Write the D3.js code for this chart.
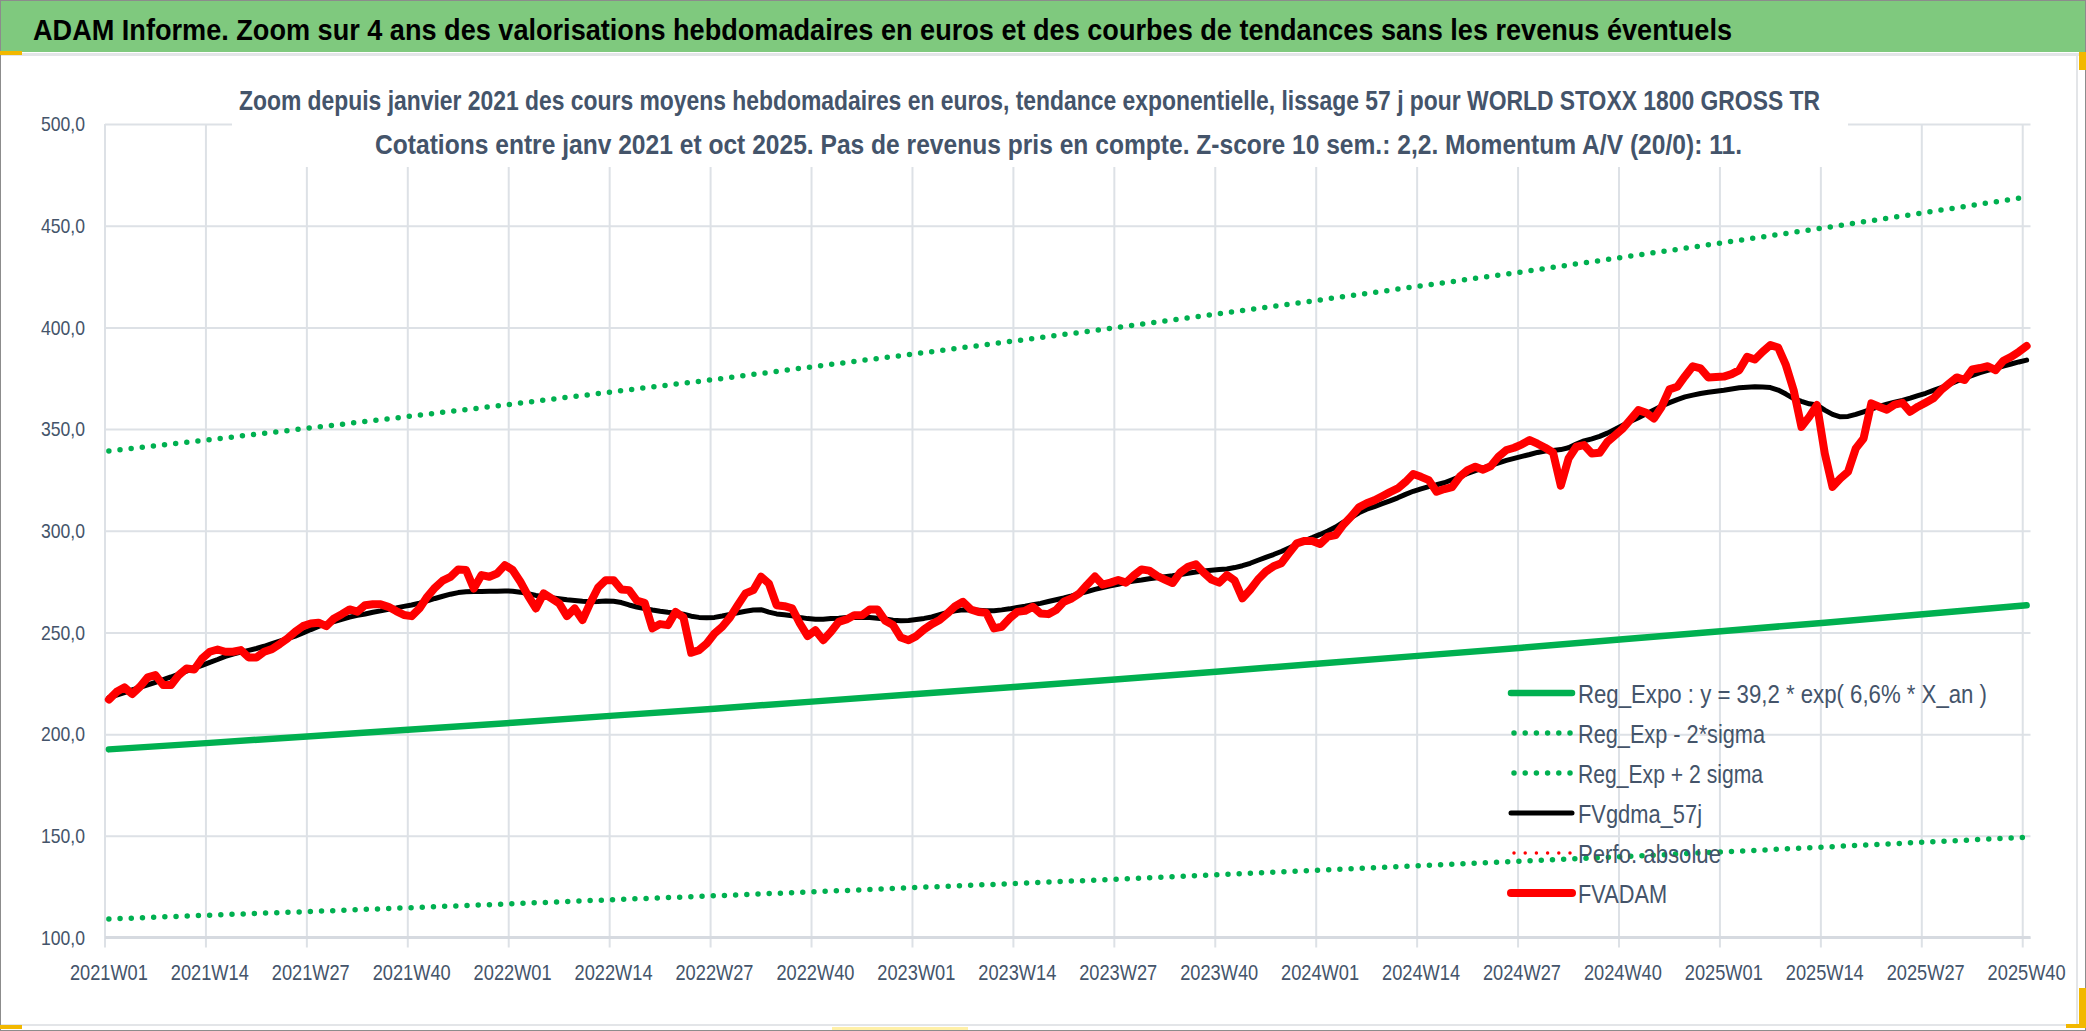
<!DOCTYPE html>
<html>
<head>
<meta charset="utf-8">
<script src="https://cdn.jsdelivr.net/npm/d3@7"></script>
<style>
  html, body { margin: 0; padding: 0; background: #fff; }
  svg { display: block; }
  text { font-family: "Liberation Sans", Arial, sans-serif; }
</style>
</head>
<body>
<script>

// weekly categories: years and number of weeks shown for each
var years = [2021, 2022, 2023, 2024, 2025];
var weeksShown = [52, 52, 52, 52, 40];

// labelled categories (one every 13 weeks)
var tickLabels = ["2021W01", "2021W14", "2021W27", "2021W40", "2022W01", "2022W14", "2022W27", "2022W40",
                  "2023W01", "2023W14", "2023W27", "2023W40", "2024W01", "2024W14", "2024W27", "2024W40",
                  "2025W01", "2025W14", "2025W27", "2025W40"];

var yTicks = [100, 150, 200, 250, 300, 350, 400, 450, 500];

// FVADAM : weekly average prices
var fvadam = [
  217.0, 220.8, 223.0, 219.7, 223.3, 227.9, 229.0, 224.1, 224.1, 229.0, 232.3, 231.8, 237.2,
  240.5, 241.6, 240.5, 240.5, 241.3, 237.7, 237.7, 240.5, 241.8, 244.3, 247.0, 250.3, 253.1,
  254.4, 254.8, 253.1, 256.9, 259.0, 261.3, 260.2, 263.4, 263.9, 263.8, 262.6, 260.5, 258.6,
  258.0, 261.8, 267.5, 272.0, 275.5, 277.3, 281.0, 280.7, 271.6, 278.2, 277.4, 279.0, 283.1,
  280.7, 274.9, 268.0, 261.8, 269.2, 266.8, 264.3, 258.0, 261.8, 256.1, 264.5, 272.0, 275.7,
  275.7, 271.1, 270.8, 265.6, 264.6, 252.0, 254.1, 253.6, 260.1, 257.4, 240.0, 241.3, 244.6,
  249.5, 252.8, 257.4, 263.4, 269.2, 270.8, 277.4, 274.1, 263.4, 262.9, 261.8, 254.4, 248.2,
  251.1, 246.2, 250.3, 255.2, 256.4, 258.5, 258.5, 261.3, 261.3, 255.7, 253.6, 247.5, 246.2,
  248.2, 251.5, 254.1, 256.1, 259.3, 262.9, 265.1, 261.3, 260.1, 259.7, 252.0, 252.8, 256.9,
  260.1, 260.6, 262.6, 259.3, 259.0, 261.0, 265.1, 266.7, 269.2, 273.5, 277.5, 273.5, 274.5,
  275.8, 274.5, 278.0, 281.0, 280.4, 277.8, 276.0, 274.3, 279.5, 282.3, 283.5, 279.5, 276.0,
  274.5, 278.2, 275.5, 266.8, 271.0, 276.0, 279.9, 282.5, 284.0, 289.0, 293.8, 295.0, 295.0,
  293.5, 297.1, 297.9, 303.0, 307.0, 311.5, 313.5, 315.0, 317.0, 319.0, 320.8, 324.0, 327.9,
  326.5, 324.9, 319.2, 320.5, 321.5, 326.6, 329.8, 331.5, 330.0, 331.8, 336.5, 339.7, 340.8,
  342.5, 344.6, 342.8, 340.8, 338.5, 322.2, 335.5, 341.3, 342.1, 338.0, 338.3, 343.7, 347.0,
  350.3, 354.8, 359.3, 358.0, 355.2, 361.0, 369.5, 370.8, 376.0, 380.9, 379.8, 375.4, 375.6,
  375.8, 377.0, 379.0, 385.5, 384.2, 388.0, 391.3, 390.1, 381.4, 369.0, 351.1, 356.0, 361.8,
  338.0, 321.6, 325.7, 329.0, 340.5, 345.4, 362.6, 361.0, 359.5, 362.0, 362.9, 358.5, 361.0,
  363.0, 365.1, 369.2, 372.3, 375.4, 374.1, 379.3, 380.0, 380.9, 379.0, 383.6, 385.5, 388.0, 390.8
];

// FVgdma_57j : smoothed curve
var fvgdma57 = [
  218.0, 219.2, 220.4, 221.8, 223.0, 224.2, 225.5, 226.8, 228.1, 229.5, 231.0, 232.4, 233.8,
  235.3, 236.7, 238.2, 239.4, 240.3, 241.2, 242.1, 243.2, 244.5, 245.7, 246.9, 248.2, 249.7,
  251.4, 253.0, 254.2, 255.3, 256.4, 257.5, 258.4, 259.1, 259.9, 260.6, 261.4, 262.0, 262.8,
  263.5, 264.4, 265.5, 266.7, 267.8, 268.8, 269.6, 270.0, 270.1, 270.1, 270.2, 270.3, 270.4,
  270.3, 269.8, 269.0, 268.2, 267.6, 267.1, 266.6, 266.1, 265.7, 265.3, 265.1, 265.2, 265.4,
  265.3, 264.7, 263.5, 262.5, 261.7, 261.0, 260.4, 259.9, 259.5, 259.0, 258.0, 257.4, 257.2,
  257.4, 258.1, 258.9, 259.7, 260.4, 261.0, 261.2, 260.0, 259.1, 258.7, 258.2, 257.4, 256.8,
  256.5, 256.5, 256.8, 257.0, 257.3, 257.4, 257.4, 257.3, 257.0, 256.6, 256.0, 255.8, 255.9,
  256.4, 256.9, 257.6, 258.7, 259.8, 260.6, 261.1, 261.0, 260.9, 260.7, 260.7, 261.1, 261.6,
  262.3, 262.9, 263.6, 264.3, 265.2, 266.1, 267.0, 268.0, 269.1, 270.1, 271.2, 272.1, 272.9,
  273.7, 274.6, 275.3, 275.8, 276.4, 276.9, 277.4, 277.9, 278.5, 279.1, 279.7, 280.2, 280.6,
  280.9, 281.2, 281.9, 282.8, 284.0, 285.5, 286.9, 288.3, 289.8, 291.5, 293.3, 295.1, 296.6,
  298.2, 299.9, 301.8, 304.2, 306.4, 308.8, 310.6, 311.9, 313.3, 314.7, 316.2, 317.9, 319.4,
  320.6, 321.7, 322.6, 323.6, 325.1, 326.6, 328.2, 329.6, 330.9, 332.1, 333.4, 334.6, 335.6,
  336.6, 337.5, 338.5, 339.2, 339.5, 339.9, 340.8, 342.6, 344.2, 345.2, 346.4, 348.0, 349.9,
  351.9, 353.8, 355.6, 357.5, 359.4, 361.3, 363.0, 364.5, 365.8, 366.7, 367.5, 368.1, 368.6,
  369.1, 369.7, 370.3, 370.6, 370.8, 370.7, 370.4, 369.2, 367.2, 365.0, 363.6, 362.4, 361.8,
  359.3, 357.2, 356.0, 356.2, 357.2, 358.5, 359.8, 361.1, 362.2, 363.2, 364.1, 365.2, 366.4,
  367.6, 369.0, 370.4, 371.9, 373.5, 375.0, 376.4, 377.7, 378.9, 379.9, 381.0, 382.0, 383.0, 383.9
];

// exponential regression and +/- 2 sigma bands, read at the labelled weeks
var regExpo = [192.5, 195.7, 199.0, 202.3, 205.6, 209.1, 212.5, 216.1, 219.7, 223.3,
               227.0, 230.8, 234.7, 238.6, 242.5, 246.6, 250.7, 254.8, 259.1, 263.4];
var regLow  = [109.1, 111.0, 112.8, 114.7, 116.6, 118.6, 120.5, 122.5, 124.6, 126.6,
               128.7, 130.9, 133.1, 135.3, 137.5, 139.8, 142.1, 144.5, 146.9, 149.3];
var regHigh = [339.2, 344.8, 350.6, 356.4, 362.3, 368.4, 374.4, 380.8, 387.1, 393.5,
               400.0, 406.7, 413.5, 420.4, 427.3, 434.5, 441.7, 449.0, 456.5, 464.1];

var titleText = "ADAM Informe. Zoom sur 4 ans des valorisations hebdomadaires en euros et des courbes de tendances sans les revenus éventuels";
var subTitle1 = "Zoom depuis janvier 2021 des cours moyens hebdomadaires en euros, tendance exponentielle, lissage 57 j pour WORLD STOXX 1800 GROSS TR";
var subTitle2 = "Cotations entre janv 2021 et oct 2025. Pas de revenus pris en compte. Z-score 10 sem.: 2,2. Momentum A/V (20/0): 11.";

var legendItems = [
  {label: "Reg_Expo : y = 39,2 * exp( 6,6% *  X_an )", color: "#00B050", width: 6.5, dotted: false, len: 409},
  {label: "Reg_Exp - 2*sigma", color: "#00B050", width: 5.5, dotted: true, len: 187},
  {label: "Reg_Exp + 2 sigma", color: "#00B050", width: 5.5, dotted: true, len: 185},
  {label: "FVgdma_57j", color: "#000000", width: 5, dotted: false, len: 124},
  {label: "Perfo. absolue", color: "#FF0000", width: 3.5, dotted: true, len: 143},
  {label: "FVADAM", color: "#FF0000", width: 8, dotted: false, len: 89}
];

// ---------------------------------------------------------------

var categories = [];
years.forEach(function(yr, i) {
    for (var w = 1; w <= weeksShown[i]; w++)
        categories.push(yr + 'W' + (w < 10 ? '0' + w : w));
});

var W = 2086, H = 1031;
var plot = {left: 105, right: 2030.5, top: 124, bottom: 937.5};
var textColor = '#44546A';

var svg = d3.select('body').append('svg')
            .attr('width', W)
            .attr('height', H);

svg.append('rect').attr('width', W).attr('height', H).attr('fill', '#fff');

// title banner
svg.append('rect')
    .attr('x', 0).attr('y', 0).attr('width', W).attr('height', 52)
    .attr('fill', '#7FC97E');
svg.append('text')
    .attr('x', 33).attr('y', 40)
    .attr('font-size', 29).attr('font-weight', 'bold').attr('fill', '#000')
    .attr('textLength', 1699).attr('lengthAdjust', 'spacingAndGlyphs')
    .text(titleText);

// chart area frame
svg.append('rect').attr('x', 0).attr('y', 53).attr('width', W).attr('height', 3).attr('fill', '#E3E5E8');
svg.append('line').attr('x1', 2077).attr('x2', 2077).attr('y1', 56).attr('y2', 1025)
    .attr('stroke', '#E3E5E8').attr('stroke-width', 2);
svg.append('line').attr('x1', 0).attr('x2', 2077).attr('y1', 1025).attr('y2', 1025)
    .attr('stroke', '#E3E5E8').attr('stroke-width', 2);
svg.append('rect').attr('x', 0).attr('y', 0).attr('width', W).attr('height', H)
    .attr('fill', 'none').attr('stroke', '#8C8C8C').attr('stroke-width', 2);

// selection handles left by the spreadsheet
var handles = [
    [0, 51, 22, 4, '#F2B800'], [2079, 52, 7, 18, '#F2B800'],
    [2079, 988, 7, 40, '#F2B800'], [2066, 1024, 20, 4, '#F2B800'],
    [0, 1025, 22, 4, '#F2B800'], [832, 1027, 136, 3, '#FFF0A8']
];
svg.selectAll('rect.handle').data(handles).enter().append('rect')
    .attr('class', 'handle')
    .attr('x', function(d) { return d[0]; }).attr('y', function(d) { return d[1]; })
    .attr('width', function(d) { return d[2]; }).attr('height', function(d) { return d[3]; })
    .attr('fill', function(d) { return d[4]; });

// scales
var x = d3.scaleBand().domain(categories).range([plot.left, plot.right]);
var bw = x.bandwidth();
var y = d3.scaleLinear().domain([100, 500]).range([plot.bottom, plot.top]);
var cx = function(c) { return x(c) + bw / 2; };

// horizontal gridlines + value labels
var yAxis = svg.append('g')
    .attr('transform', 'translate(' + plot.left + ',0)')
    .call(d3.axisLeft(y)
            .tickValues(yTicks)
            .tickSize(-(plot.right - plot.left))
            .tickPadding(20)
            .tickFormat(function(d) { return d3.format('.1f')(d).replace('.', ','); }));
yAxis.select('.domain').remove();
yAxis.selectAll('.tick line').attr('stroke', '#DDE1E6').attr('stroke-width', 2);
yAxis.selectAll('.tick text')
    .attr('font-size', 21).attr('fill', textColor)
    .attr('font-family', '"Liberation Sans", Arial, sans-serif')
    .attr('textLength', 44).attr('lengthAdjust', 'spacingAndGlyphs');

// vertical gridlines at the labelled weeks (band edges)
svg.append('g').selectAll('line').data(tickLabels).enter().append('line')
    .attr('x1', function(d) { return x(d); }).attr('x2', function(d) { return x(d); })
    .attr('y1', plot.top).attr('y2', plot.bottom + 10)
    .attr('stroke', '#DDE1E6').attr('stroke-width', 2);

// category axis line
svg.append('line')
    .attr('x1', plot.left).attr('x2', plot.right)
    .attr('y1', plot.bottom).attr('y2', plot.bottom)
    .attr('stroke', '#D6DAE0').attr('stroke-width', 3);

// chart title box (opaque, hides the gridlines behind it)
svg.append('rect')
    .attr('x', 232).attr('y', 60).attr('width', 1616).attr('height', 107)
    .attr('fill', '#fff');
svg.append('text')
    .attr('x', 239).attr('y', 110)
    .attr('font-size', 28.5).attr('font-weight', 'bold').attr('fill', textColor)
    .attr('textLength', 1581).attr('lengthAdjust', 'spacingAndGlyphs')
    .text(subTitle1);
svg.append('text')
    .attr('x', 375).attr('y', 154)
    .attr('font-size', 28.5).attr('font-weight', 'bold').attr('fill', textColor)
    .attr('textLength', 1367).attr('lengthAdjust', 'spacingAndGlyphs')
    .text(subTitle2);

// week labels
var xAxis = svg.append('g')
    .attr('transform', 'translate(0,' + plot.bottom + ')')
    .call(d3.axisBottom(x).tickValues(tickLabels).tickSize(0).tickPadding(27));
xAxis.select('.domain').remove();
xAxis.selectAll('.tick text')
    .attr('font-size', 21.5).attr('fill', textColor)
    .attr('font-family', '"Liberation Sans", Arial, sans-serif')
    .attr('textLength', 78).attr('lengthAdjust', 'spacingAndGlyphs');

// series
var trendLine = d3.line()
    .x(function(d, i) { return cx(tickLabels[i]); })
    .y(function(d) { return y(d); });
var weekLine = d3.line()
    .x(function(d, i) { return cx(categories[i]); })
    .y(function(d) { return y(d); });

var series = svg.append('g').attr('fill', 'none')
    .attr('stroke-linejoin', 'round').attr('stroke-linecap', 'round');

series.append('path').attr('d', trendLine(regExpo))
    .attr('stroke', '#00B050').attr('stroke-width', 6.5);
series.append('path').attr('d', trendLine(regLow))
    .attr('stroke', '#00B050').attr('stroke-width', 5.5).attr('stroke-dasharray', '0 11.2');
series.append('path').attr('d', trendLine(regHigh))
    .attr('stroke', '#00B050').attr('stroke-width', 5.5).attr('stroke-dasharray', '0 11.2');
series.append('path').attr('d', weekLine(fvgdma57))
    .attr('stroke', '#000').attr('stroke-width', 5);
series.append('path').attr('d', weekLine(fvadam))
    .attr('stroke', '#FF0000').attr('stroke-width', 8);

// legend
var legend = svg.append('g').attr('transform', 'translate(1511,693)');
var rows = legend.selectAll('g').data(legendItems).enter().append('g')
    .attr('transform', function(d, i) { return 'translate(0,' + (i * 40) + ')'; });
rows.append('line')
    .attr('x1', function(d) { return d.dotted ? 3 : 0; }).attr('x2', 61)
    .attr('stroke', function(d) { return d.color; })
    .attr('stroke-width', function(d) { return d.width; })
    .attr('stroke-linecap', 'round')
    .attr('stroke-dasharray', function(d) { return d.dotted ? '0 11.2' : null; });
rows.append('text')
    .attr('x', 67).attr('y', 9.5)
    .attr('font-size', 26.5).attr('fill', textColor)
    .attr('textLength', function(d) { return d.len; })
    .attr('lengthAdjust', 'spacingAndGlyphs')
    .text(function(d) { return d.label; });

</script>
</body>
</html>
